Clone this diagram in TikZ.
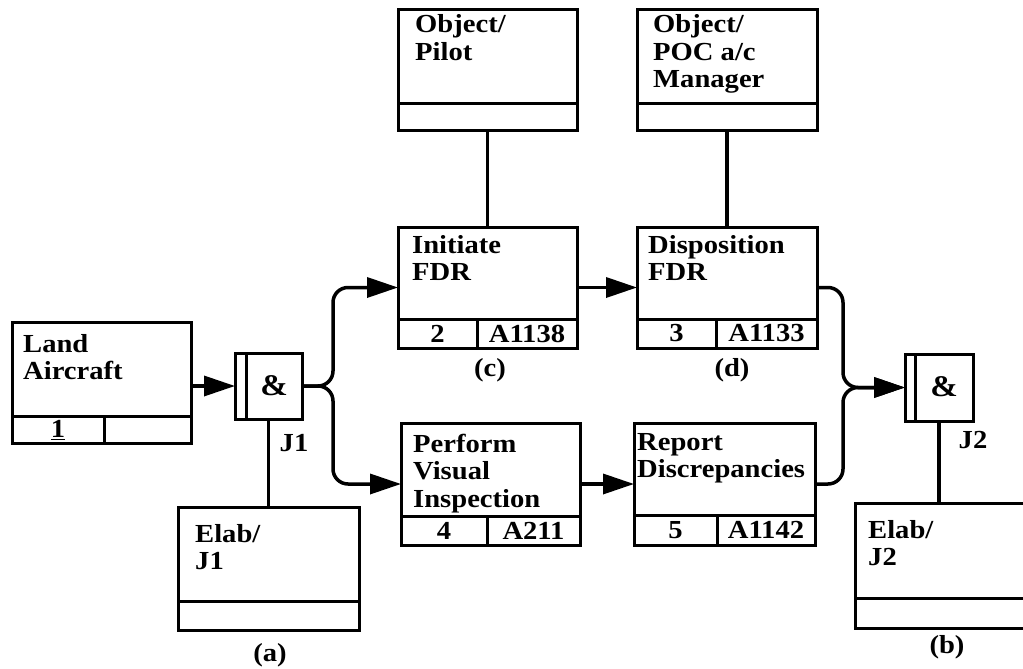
\documentclass[tikz,border=0pt]{standalone}
\usepackage{fontspec}
\setmainfont{Liberation Serif}[FakeStretch=1.1]
\usetikzlibrary{arrows.meta,calc}
\newcommand\myfs{\fontsize{26}{27.5}\selectfont\bfseries}
\newcommand\ampfs{\fontsize{30}{32}\selectfont\bfseries}
\newcommand\ml[1]{\begin{tabular}[t]{@{}l@{}}#1\end{tabular}}
\begin{document}
\begin{tikzpicture}[x=1pt,y=-1pt,
  bx/.style={draw,line width=3pt,rectangle,inner sep=0pt,outer sep=0pt,anchor=north west},
  bl/.style={line width=3pt},
  conn/.style={line width=3.5pt},
  arr/.style={conn,-{Triangle[length=31pt,width=20pt]}},
  txt/.style={font=\myfs,inner sep=0pt,anchor=base west},
  cell/.style={font=\myfs,inner sep=0pt}]
\useasboundingbox[fill=white] (0,0) rectangle (1023,669);

% Land Aircraft
\node[bx,minimum width=179pt,minimum height=121pt] (land) at (12,322) {};
\draw[bl] ([yshift=27pt]land.south west) -- ([yshift=27pt]land.south east);
\draw[bl] ([xshift=92pt]land.south west) -- ([xshift=92pt,yshift=27pt]land.south west);
\node[txt] (landT) at (23,352) {\ml{Land\\Aircraft}};
\node[cell] (landN) at (58,430) {\underline{1}};

% Object/Pilot
\node[bx,minimum width=179pt,minimum height=120pt] (pilot) at (398,10) {};
\draw[bl] ([yshift=27pt]pilot.south west) -- ([yshift=27pt]pilot.south east);
\node[txt] (pilotT) at (415,33) {\ml{Object/\\Pilot}};

% Object/POC
\node[bx,minimum width=180pt,minimum height=120pt] (poc) at (637,10) {};
\draw[bl] ([yshift=27pt]poc.south west) -- ([yshift=27pt]poc.south east);
\node[txt] (pocT) at (653,33) {\ml{Object/\\POC a/c\\Manager}};

% Initiate FDR
\node[bx,minimum width=179pt,minimum height=121pt] (init) at (398,227) {};
\draw[bl] ([yshift=29pt]init.south west) -- ([yshift=29pt]init.south east);
\draw[bl] ([xshift=79pt]init.south west) -- ([xshift=79pt,yshift=29pt]init.south west);
\node[txt] (initT) at (412,253) {\ml{Initiate\\FDR}};
\node[cell] (initN) at (437.5,333.5) {2};
\node[cell] (initC) at (527,333.5) {A1138};
\node[cell] (lc) at (490,370) {(c)};

% Disposition FDR
\node[bx,minimum width=180pt,minimum height=121pt] (disp) at (637,227) {};
\draw[bl] ([yshift=29pt]disp.south west) -- ([yshift=29pt]disp.south east);
\draw[bl] ([xshift=79pt]disp.south west) -- ([xshift=79pt,yshift=29pt]disp.south west);
\node[txt] (dispT) at (648,253) {\ml{Disposition\\FDR}};
\node[cell] (dispN) at (676.5,333.5) {3};
\node[cell] (dispC) at (766.5,333.5) {A1133};
\node[cell] (ld) at (732,370) {(d)};

% Perform Visual Inspection
\node[bx,minimum width=179pt,minimum height=122pt] (perf) at (401,423) {};
\draw[bl] ([yshift=29pt]perf.south west) -- ([yshift=29pt]perf.south east);
\draw[bl] ([xshift=86pt]perf.south west) -- ([xshift=86pt,yshift=29pt]perf.south west);
\node[txt] (perfT) at (413,452) {\ml{Perform\\Visual\\Inspection}};
\node[cell] (perfN) at (444,530.5) {4};
\node[cell] (perfC) at (533.5,530.5) {A211};

% Report Discrepancies
\node[bx,minimum width=181pt,minimum height=122pt] (rep) at (634,423) {};
\draw[bl] ([yshift=30pt]rep.south west) -- ([yshift=30pt]rep.south east);
\draw[bl] ([xshift=83pt]rep.south west) -- ([xshift=83pt,yshift=30pt]rep.south west);
\node[txt] (repT) at (637,450) {\ml{Report\\Discrepancies}};
\node[cell] (repN) at (675.5,530) {5};
\node[cell] (repC) at (766,530) {A1142};

% Elab/J1
\node[bx,minimum width=181pt,minimum height=123pt] (elab1) at (178,507) {};
\draw[bl] ([yshift=29pt]elab1.south west) -- ([yshift=29pt]elab1.south east);
\node[txt] (elab1T) at (195,542) {\ml{Elab/\\J1}};
\node[cell] (la) at (270,655) {(a)};

% Elab/J2
\node[bx,minimum width=170pt,minimum height=125pt] (elab2) at (855,503) {};
\draw[bl] ([yshift=30pt]elab2.south west) -- ([yshift=30pt]elab2.south east);
\node[txt] (elab2T) at (868,538) {\ml{Elab/\\J2}};
\node[cell] (lb) at (947,647) {(b)};

% Junctions
\node[bx,minimum width=67pt,minimum height=66pt] (J1) at (235,353) {};
\draw[bl] ([xshift=11pt]J1.north west) -- ([xshift=11pt]J1.south west);
\node[font=\ampfs,inner sep=0pt] (J1amp) at (274,386) {\&};
\node[cell] (J1L) at (294,443) {J1};

\node[bx,minimum width=68pt,minimum height=67pt] (J2) at (905,354) {};
\draw[bl] ([xshift=10pt]J2.north west) -- ([xshift=10pt]J2.south west);
\node[font=\ampfs,inner sep=0pt] (J2amp) at (944,387) {\&};
\node[cell] (J2L) at (973,440) {J2};

% Connectors
\draw[arr] (land.east |- J1.west) -- (J1.west);
\coordinate (m1) at ($(J1.east)+(31pt,0)$);
\draw[arr,rounded corners=15pt] (J1.east) -- (m1) |- (init.west);
\draw[arr,rounded corners=15pt] (J1.east) -- (m1) |- (perf.west);
\draw[arr] (init.east) -- (disp.west);
\draw[arr] (perf.east) -- (rep.west);
\coordinate (m2) at ($(J2.west)+(-62pt,0)$);
\draw[arr,rounded corners=15pt] (disp.east) -| (m2) -- (J2.west);
\draw[arr,rounded corners=15pt] (rep.east) -| (m2) -- (J2.west);
\draw[conn] (pilot.south) -- (init.north);
\draw[conn] (poc.south) -- (disp.north);
\draw[conn] (J1.south) -- (elab1.north);
\draw[conn] (J2.south) -- (J2.south |- elab2.north);
\end{tikzpicture}
\end{document}
